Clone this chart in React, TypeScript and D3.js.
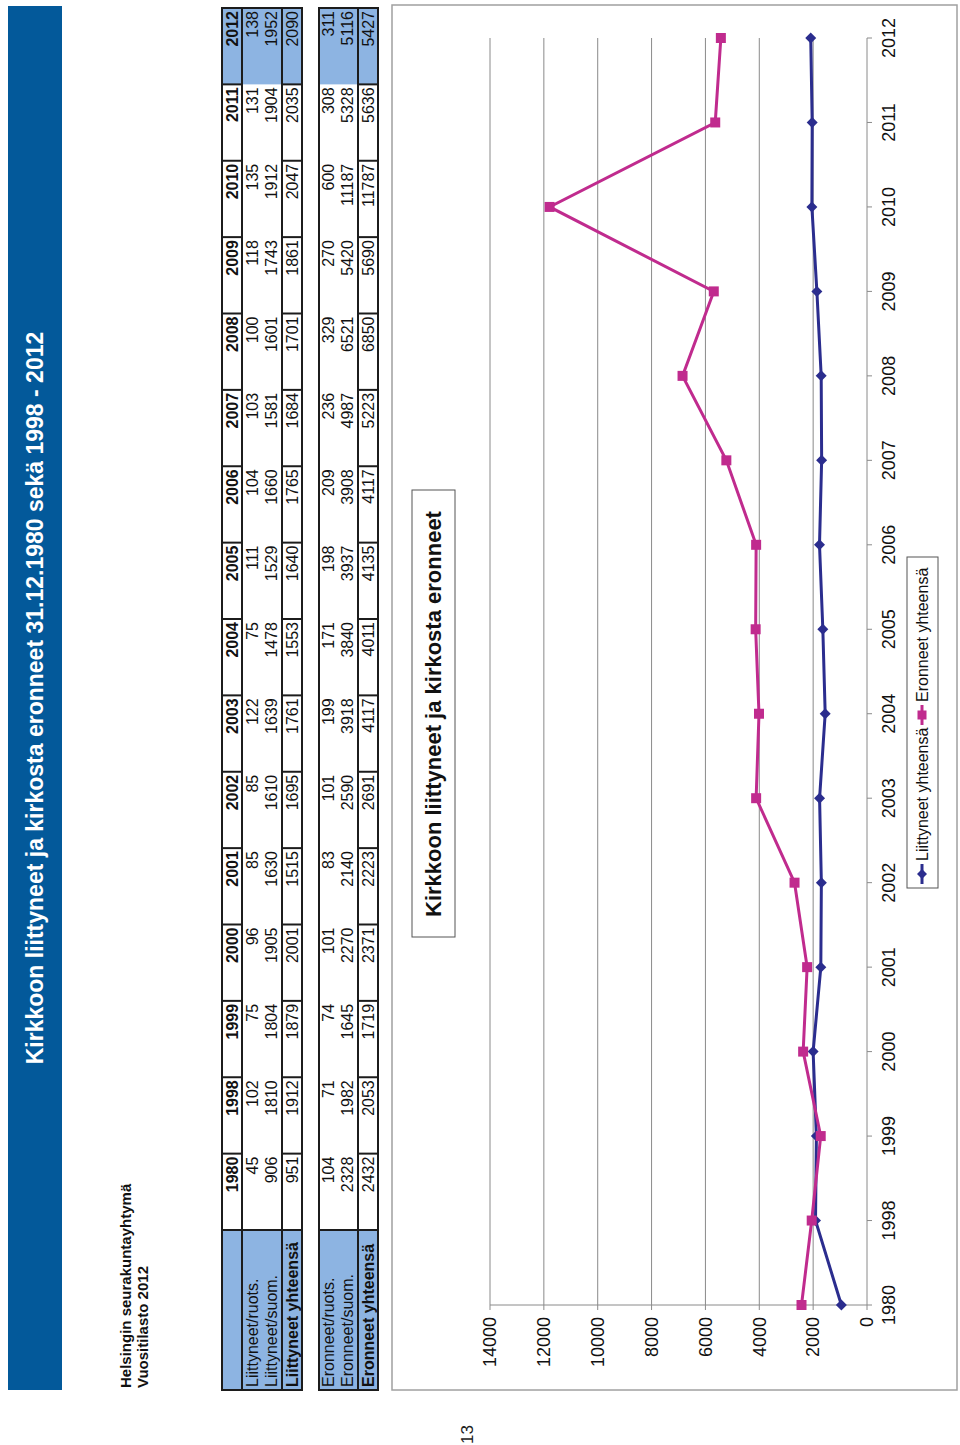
import * as d3 from 'd3';
import React from 'react';

// page is landscape, printed rotated: we draw in a 1445x960 frame then turn it
const PAGE_W = 1445, PAGE_H = 960;

const years = ['1980', '1998', '1999', '2000', '2001', '2002', '2003', '2004', '2005', '2006', '2007', '2008', '2009', '2010', '2011', '2012'];

const liittyneetRuots = [45, 102, 75, 96, 85, 85, 122, 75, 111, 104, 103, 100, 118, 135, 131, 138];
const liittyneetSuom = [906, 1810, 1804, 1905, 1630, 1610, 1639, 1478, 1529, 1660, 1581, 1601, 1743, 1912, 1904, 1952];
const liittyneetYht = [951, 1912, 1879, 2001, 1515, 1695, 1761, 1553, 1640, 1765, 1684, 1701, 1861, 2047, 2035, 2090];

const eronneetRuots = [104, 71, 74, 101, 83, 101, 199, 171, 198, 209, 236, 329, 270, 600, 308, 311];
const eronneetSuom = [2328, 1982, 1645, 2270, 2140, 2590, 3918, 3840, 3937, 3908, 4987, 6521, 5420, 11187, 5328, 5116];
const eronneetYht = [2432, 2053, 1719, 2371, 2223, 2691, 4117, 4011, 4135, 4117, 5223, 6850, 5690, 11787, 5636, 5427];

const yTicks = [0, 2000, 4000, 6000, 8000, 10000, 12000, 14000];

const FONT = '"Liberation Sans", Arial, Helvetica, sans-serif';
const TITLE_BLUE = '#03599a';
const CELL_BLUE = '#8db4e2';
const NAVY = '#2b2d8e';
const MAGENTA = '#c02b8e';
const GRID = '#8a8a8a';

// table geometry
const tblLeft = 55, tblRight = 1437, labelW = 160;
const colW = (tblRight - tblLeft - labelW) / years.length;
const colX = (i: number) => tblLeft + labelW + i * colW;

interface Row { label: string; values: number[]; bold?: boolean; y0: number; y1: number }

const DataTable = (props: { top: number; bottom: number; header?: number; rows: Row[]; totalTop: number }) => {
    const { top, bottom, header, rows, totalTop } = props;
    const lines: JSX.Element[] = [];
    // column borders: full height at label column, only in header and total rows elsewhere
    lines.push(<line key="lc" x1={colX(0)} x2={colX(0)} y1={top} y2={bottom} />);
    for (let i = 1; i < years.length; i++) {
        if (header !== undefined) lines.push(<line key={'h' + i} x1={colX(i)} x2={colX(i)} y1={top} y2={header} />);
        lines.push(<line key={'t' + i} x1={colX(i)} x2={colX(i)} y1={totalTop} y2={bottom} />);
    }
    return <g>
        <rect x={tblLeft} y={top} width={tblRight - tblLeft} height={bottom - top} fill="#fff" />
        <rect x={tblLeft} y={top} width={labelW} height={bottom - top} fill={CELL_BLUE} />
        <rect x={colX(years.length - 1)} y={top} width={colW} height={bottom - top} fill={CELL_BLUE} />
        {header !== undefined && years.map((yr, i) =>
            <text key={yr} x={colX(i + 1) - 3} y={header - 4} textAnchor="end" fontWeight="bold">{yr}</text>)}
        {rows.map(r => <g key={r.label}>
            <text x={tblLeft + 3} y={r.y1 - 4} fontWeight={r.bold ? 'bold' : 'normal'}>{r.label}</text>
            {r.values.map((v, i) => <text key={i} x={colX(i + 1) - 3} y={r.y1 - 4} textAnchor="end">{v}</text>)}
        </g>)}
        <g stroke="#1c1c1c" strokeWidth={2}>
            {lines}
            {header !== undefined && <line x1={tblLeft} x2={tblRight} y1={header} y2={header} />}
            <line x1={tblLeft} x2={tblRight} y1={totalTop} y2={totalTop} />
            <rect x={tblLeft} y={top} width={tblRight - tblLeft} height={bottom - top} fill="none" />
        </g>
    </g>;
};

const App = () => {
    // plot area
    const x = d3.scalePoint<string>().domain(years).range([140, 1407]);
    const y = d3.scaleLinear().domain([0, 14000]).range([867, 490]);

    // the chart plots the sum of the swedish and finnish rows
    const liittyneet = liittyneetRuots.map((v, i) => v + liittyneetSuom[i]);
    const eronneet = eronneetRuots.map((v, i) => v + eronneetSuom[i]);

    const line = d3.line<number>()
        .x((d, i) => x(years[i]) as number)
        .y(d => y(d));

    const diamond = (cx: number, cy: number, r: number) =>
        `M${cx},${cy - r}L${cx + r},${cy}L${cx},${cy + r}L${cx - r},${cy}Z`;

    const legendY = 922;

    return <svg width={960} height={1445} style={{ position: 'absolute', left: 0, top: 0, background: '#fff' }}
        fontFamily={FONT}>
        <g transform={`translate(0,${PAGE_W}) rotate(-90)`}>
            <rect width={PAGE_W} height={PAGE_H} fill="#fff" />

            {/* title bar */}
            <rect x={55} y={8} width={1384} height={54} fill={TITLE_BLUE} />
            <text x={747} y={43} textAnchor="middle" fill="#fff" fontWeight="bold" fontSize={23}>
                Kirkkoon liittyneet ja kirkosta eronneet 31.12.1980 sekä 1998 - 2012
            </text>

            <text x={57} y={131} fontWeight="bold" fontSize={15} fill="#111">Helsingin seurakuntayhtymä</text>
            <text x={57} y={148} fontWeight="bold" fontSize={15} fill="#111">Vuositilasto 2012</text>

            <g fontSize={16} fill="#111">
                <DataTable top={222} header={242} totalTop={282} bottom={302} rows={[
                    { label: 'Liittyneet/ruots.', values: liittyneetRuots, y0: 242, y1: 262 },
                    { label: 'Liittyneet/suom.', values: liittyneetSuom, y0: 262, y1: 281 },
                    { label: 'Liittyneet yhteensä', values: liittyneetYht, bold: true, y0: 282, y1: 302 },
                ]} />
                <DataTable top={319} totalTop={358} bottom={378} rows={[
                    { label: 'Eronneet/ruots.', values: eronneetRuots, y0: 319, y1: 338 },
                    { label: 'Eronneet/suom.', values: eronneetSuom, y0: 338, y1: 357 },
                    { label: 'Eronneet yhteensä', values: eronneetYht, bold: true, y0: 358, y1: 378 },
                ]} />
            </g>

            <text x={1} y={473} fontSize={17} fill="#222">13</text>

            {/* chart */}
            <rect x={55} y={392} width={1385} height={565} fill="#fff" stroke="#a0a0a0" strokeWidth={1.5} />

            <g stroke={GRID} strokeWidth={1}>
                {yTicks.filter(t => t > 0).map(t =>
                    <line key={t} x1={x(years[0])} x2={x(years[years.length - 1])} y1={y(t)} y2={y(t)} />)}
                {yTicks.map(t => <line key={'k' + t} x1={x(years[0])! - 5} x2={x(years[0])} y1={y(t)} y2={y(t)} />)}
                <line x1={x(years[0])} x2={x(years[0])} y1={y(0)} y2={y(14000)} />
                <line x1={x(years[0])} x2={x(years[years.length - 1])} y1={y(0)} y2={y(0)} />
                {years.map(yr => <line key={yr} x1={x(yr)} x2={x(yr)} y1={y(0)} y2={y(0) + 5} />)}
            </g>

            <g fontSize={18} fill="#111">
                {yTicks.map(t => <text key={t} x={128} y={y(t)} dy="0.35em" textAnchor="end">{t}</text>)}
                {years.map(yr => <text key={yr} x={x(yr)} y={895} textAnchor="middle">{yr}</text>)}
            </g>

            <path d={line(liittyneet) ?? ''} fill="none" stroke={NAVY} strokeWidth={3} />
            <path d={line(eronneet) ?? ''} fill="none" stroke={MAGENTA} strokeWidth={3} />
            {liittyneet.map((v, i) => <path key={'d' + i} d={diamond(x(years[i]) as number, y(v), 5.5)} fill={NAVY} />)}
            {eronneet.map((v, i) => <rect key={'s' + i} x={(x(years[i]) as number) - 5} y={y(v) - 5} width={10} height={10} fill={MAGENTA} />)}

            {/* chart title */}
            <rect x={508} y={412} width={447} height={43} fill="#fff" stroke="#555" strokeWidth={1} />
            <text x={731} y={441} textAnchor="middle" fontWeight="bold" fontSize={22} fill="#111">
                Kirkkoon liittyneet ja kirkosta eronneet
            </text>

            {/* legend */}
            <rect x={557} y={907} width={331} height={31} fill="#fff" stroke="#555" strokeWidth={1} />
            <line x1={561} x2={581} y1={legendY} y2={legendY} stroke={NAVY} strokeWidth={3} />
            <path d={diamond(571, legendY, 5)} fill={NAVY} />
            <text x={584} y={legendY + 6} fontSize={16} fill="#111">Liittyneet yhteensä</text>
            <line x1={720} x2={740} y1={legendY} y2={legendY} stroke={MAGENTA} strokeWidth={3} />
            <rect x={725.5} y={legendY - 4.5} width={9} height={9} fill={MAGENTA} />
            <text x={743} y={legendY + 6} fontSize={16} fill="#111">Eronneet yhteensä</text>
        </g>
    </svg>;
};

export default App;
